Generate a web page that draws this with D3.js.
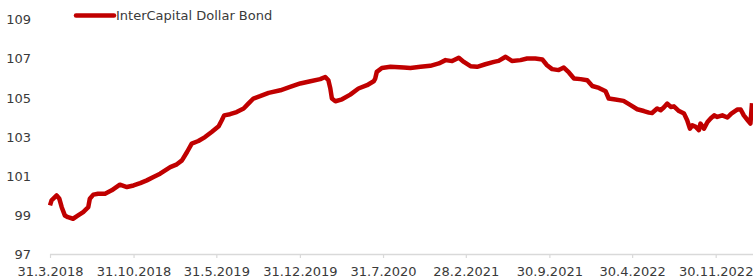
<!DOCTYPE html>
<html>
<head>
<meta charset="utf-8">
<script src="https://cdn.jsdelivr.net/npm/d3@7"></script>
<style>
  html, body { margin: 0; padding: 0; background: #fff; }
  svg { display: block; }
  text { font-family: "DejaVu Sans", Verdana, sans-serif; font-size: 13px; fill: #3a3a3a; }
</style>
</head>
<body>
<svg id="chart" width="753" height="278"></svg>
<script>
const seriesName = "InterCapital Dollar Bond";

const dates = ["2018-03-31","2018-04-04","2018-04-17","2018-04-24","2018-04-30","2018-05-08","2018-05-16","2018-05-29","2018-06-11","2018-06-24","2018-07-07","2018-07-11","2018-07-20","2018-08-01","2018-08-19","2018-09-05","2018-09-26","2018-10-14","2018-10-31","2018-11-17","2018-12-04","2018-12-21",
"2019-01-07","2019-02-02","2019-02-19","2019-03-04","2019-03-17","2019-03-29","2019-04-15","2019-05-02","2019-05-19","2019-06-06","2019-06-14","2019-06-20","2019-07-05","2019-07-22","2019-08-09","2019-08-21","2019-09-03","2019-09-20","2019-10-12","2019-11-11","2019-12-06",
"2020-01-01","2020-01-27","2020-02-21","2020-03-05","2020-03-13","2020-03-18","2020-03-22","2020-03-31","2020-04-17","2020-05-08","2020-05-29","2020-06-20","2020-07-07","2020-07-11","2020-07-15","2020-07-28","2020-08-19","2020-09-22","2020-10-09","2020-11-04","2020-11-29","2020-12-21",
"2021-01-07","2021-01-24","2021-02-10","2021-02-23","2021-03-12","2021-03-29","2021-04-19","2021-05-11","2021-05-23","2021-06-10","2021-06-26","2021-07-18","2021-08-04","2021-08-25","2021-09-12","2021-09-24","2021-10-07","2021-10-24","2021-11-06","2021-11-19","2021-12-02","2021-12-19",
"2022-01-05","2022-01-18","2022-02-04","2022-02-21","2022-03-01","2022-03-18","2022-04-08","2022-04-26","2022-05-13","2022-05-30","2022-06-12","2022-06-20","2022-07-03","2022-07-12","2022-07-20","2022-07-29","2022-08-07","2022-08-15","2022-08-28","2022-09-10","2022-09-18","2022-09-25","2022-10-01","2022-10-10","2022-10-18","2022-10-22","2022-10-31","2022-11-09","2022-11-17","2022-11-26","2022-12-04","2022-12-17","2022-12-30",
"2023-01-09","2023-01-25","2023-02-02","2023-02-10","2023-02-20","2023-02-27","2023-03-03"];

const values = [99.48,99.74,99.99,99.82,99.39,98.97,98.88,98.80,98.97,99.14,99.39,99.82,100.03,100.08,100.08,100.25,100.54,100.42,100.50,100.62,100.76,100.93,
101.10,101.44,101.58,101.78,102.21,102.64,102.77,102.97,103.23,103.52,103.83,104.08,104.14,104.25,104.43,104.68,104.94,105.06,105.23,105.36,105.53,
105.71,105.82,105.93,106.04,105.87,105.45,104.94,104.80,104.90,105.14,105.45,105.62,105.82,105.96,106.30,106.50,106.56,106.52,106.50,106.56,106.61,106.73,
106.90,106.85,107.02,106.81,106.59,106.56,106.69,106.81,106.86,107.07,106.86,106.90,106.98,106.98,106.93,106.64,106.44,106.39,106.52,106.27,105.96,105.93,
105.87,105.58,105.48,105.31,104.94,104.89,104.82,104.60,104.39,104.30,104.22,104.20,104.43,104.34,104.48,104.68,104.51,104.54,104.30,104.17,103.83,103.40,103.57,103.49,103.32,103.66,103.40,103.74,103.92,104.08,104.00,104.08,103.97,
104.17,104.38,104.38,104.08,103.83,103.66,104.70];

const xTickDates = ["2018-03-31","2018-10-31","2019-05-31","2019-12-31","2020-07-31","2021-02-28","2021-09-30","2022-04-30","2022-11-30"];
const yTicks = [97, 99, 101, 103, 105, 107, 109];

const parse = d3.timeParse("%Y-%m-%d");
const data = dates.map((d, i) => ({ date: parse(d), value: values[i] }));
const tickDates = xTickDates.map(parse);

const svg = d3.select("#chart");
const plotLeft = 50, plotRight = 752, plotTop = 19, plotBottom = 254;

const x = d3.scaleTime()
  .domain([data[0].date, data[data.length - 1].date])
  .range([plotLeft, plotRight]);
const y = d3.scaleLinear().domain([97, 109]).range([plotBottom, plotTop]);

// y-axis labels (no line)
const yAxis = d3.axisLeft(y).tickValues(yTicks).tickSize(0).tickPadding(0).tickFormat(d3.format("d"));
const gy = svg.append("g").attr("transform", "translate(31,0)").call(yAxis);
gy.select(".domain").remove();
gy.selectAll("text").attr("font-family", null).attr("font-size", null).attr("fill", null)
  .attr("dy", "0.36em");

// x-axis
const fmt = d3.timeFormat("%-d.%-m.%Y");
const xAxis = d3.axisBottom(x).tickValues(tickDates).tickSize(4).tickSizeOuter(0).tickPadding(9).tickFormat(fmt);
const gx = svg.append("g").attr("transform", `translate(0,${plotBottom})`).call(xAxis);
gx.select(".domain").remove();
gx.append("line").attr("x1", plotLeft).attr("x2", 753).attr("y1", 0.5).attr("y2", 0.5)
  .attr("stroke", "#d9d9d9").attr("stroke-width", 1.5);
gx.selectAll(".tick line").attr("stroke", "#d9d9d9").attr("stroke-width", 1.2);
gx.selectAll("text").attr("font-family", null).attr("font-size", null).attr("fill", null);

// line
const line = d3.line().x(d => x(d.date)).y(d => y(d.value)).curve(d3.curveLinear);
svg.append("path").datum(data)
  .attr("d", line)
  .attr("fill", "none")
  .attr("stroke", "#c00000")
  .attr("stroke-width", 4.5)
  .attr("stroke-linejoin", "round")
  .attr("stroke-linecap", "butt");

// legend
const lg = svg.append("g");
lg.append("line").attr("x1", 76).attr("x2", 114).attr("y1", 15.5).attr("y2", 15.5)
  .attr("stroke", "#c00000").attr("stroke-width", 4.5).attr("stroke-linecap", "round");
lg.append("text").attr("x", 116).attr("y", 15.5).attr("dy", "0.36em").text(seriesName);
</script>
</body>
</html>
